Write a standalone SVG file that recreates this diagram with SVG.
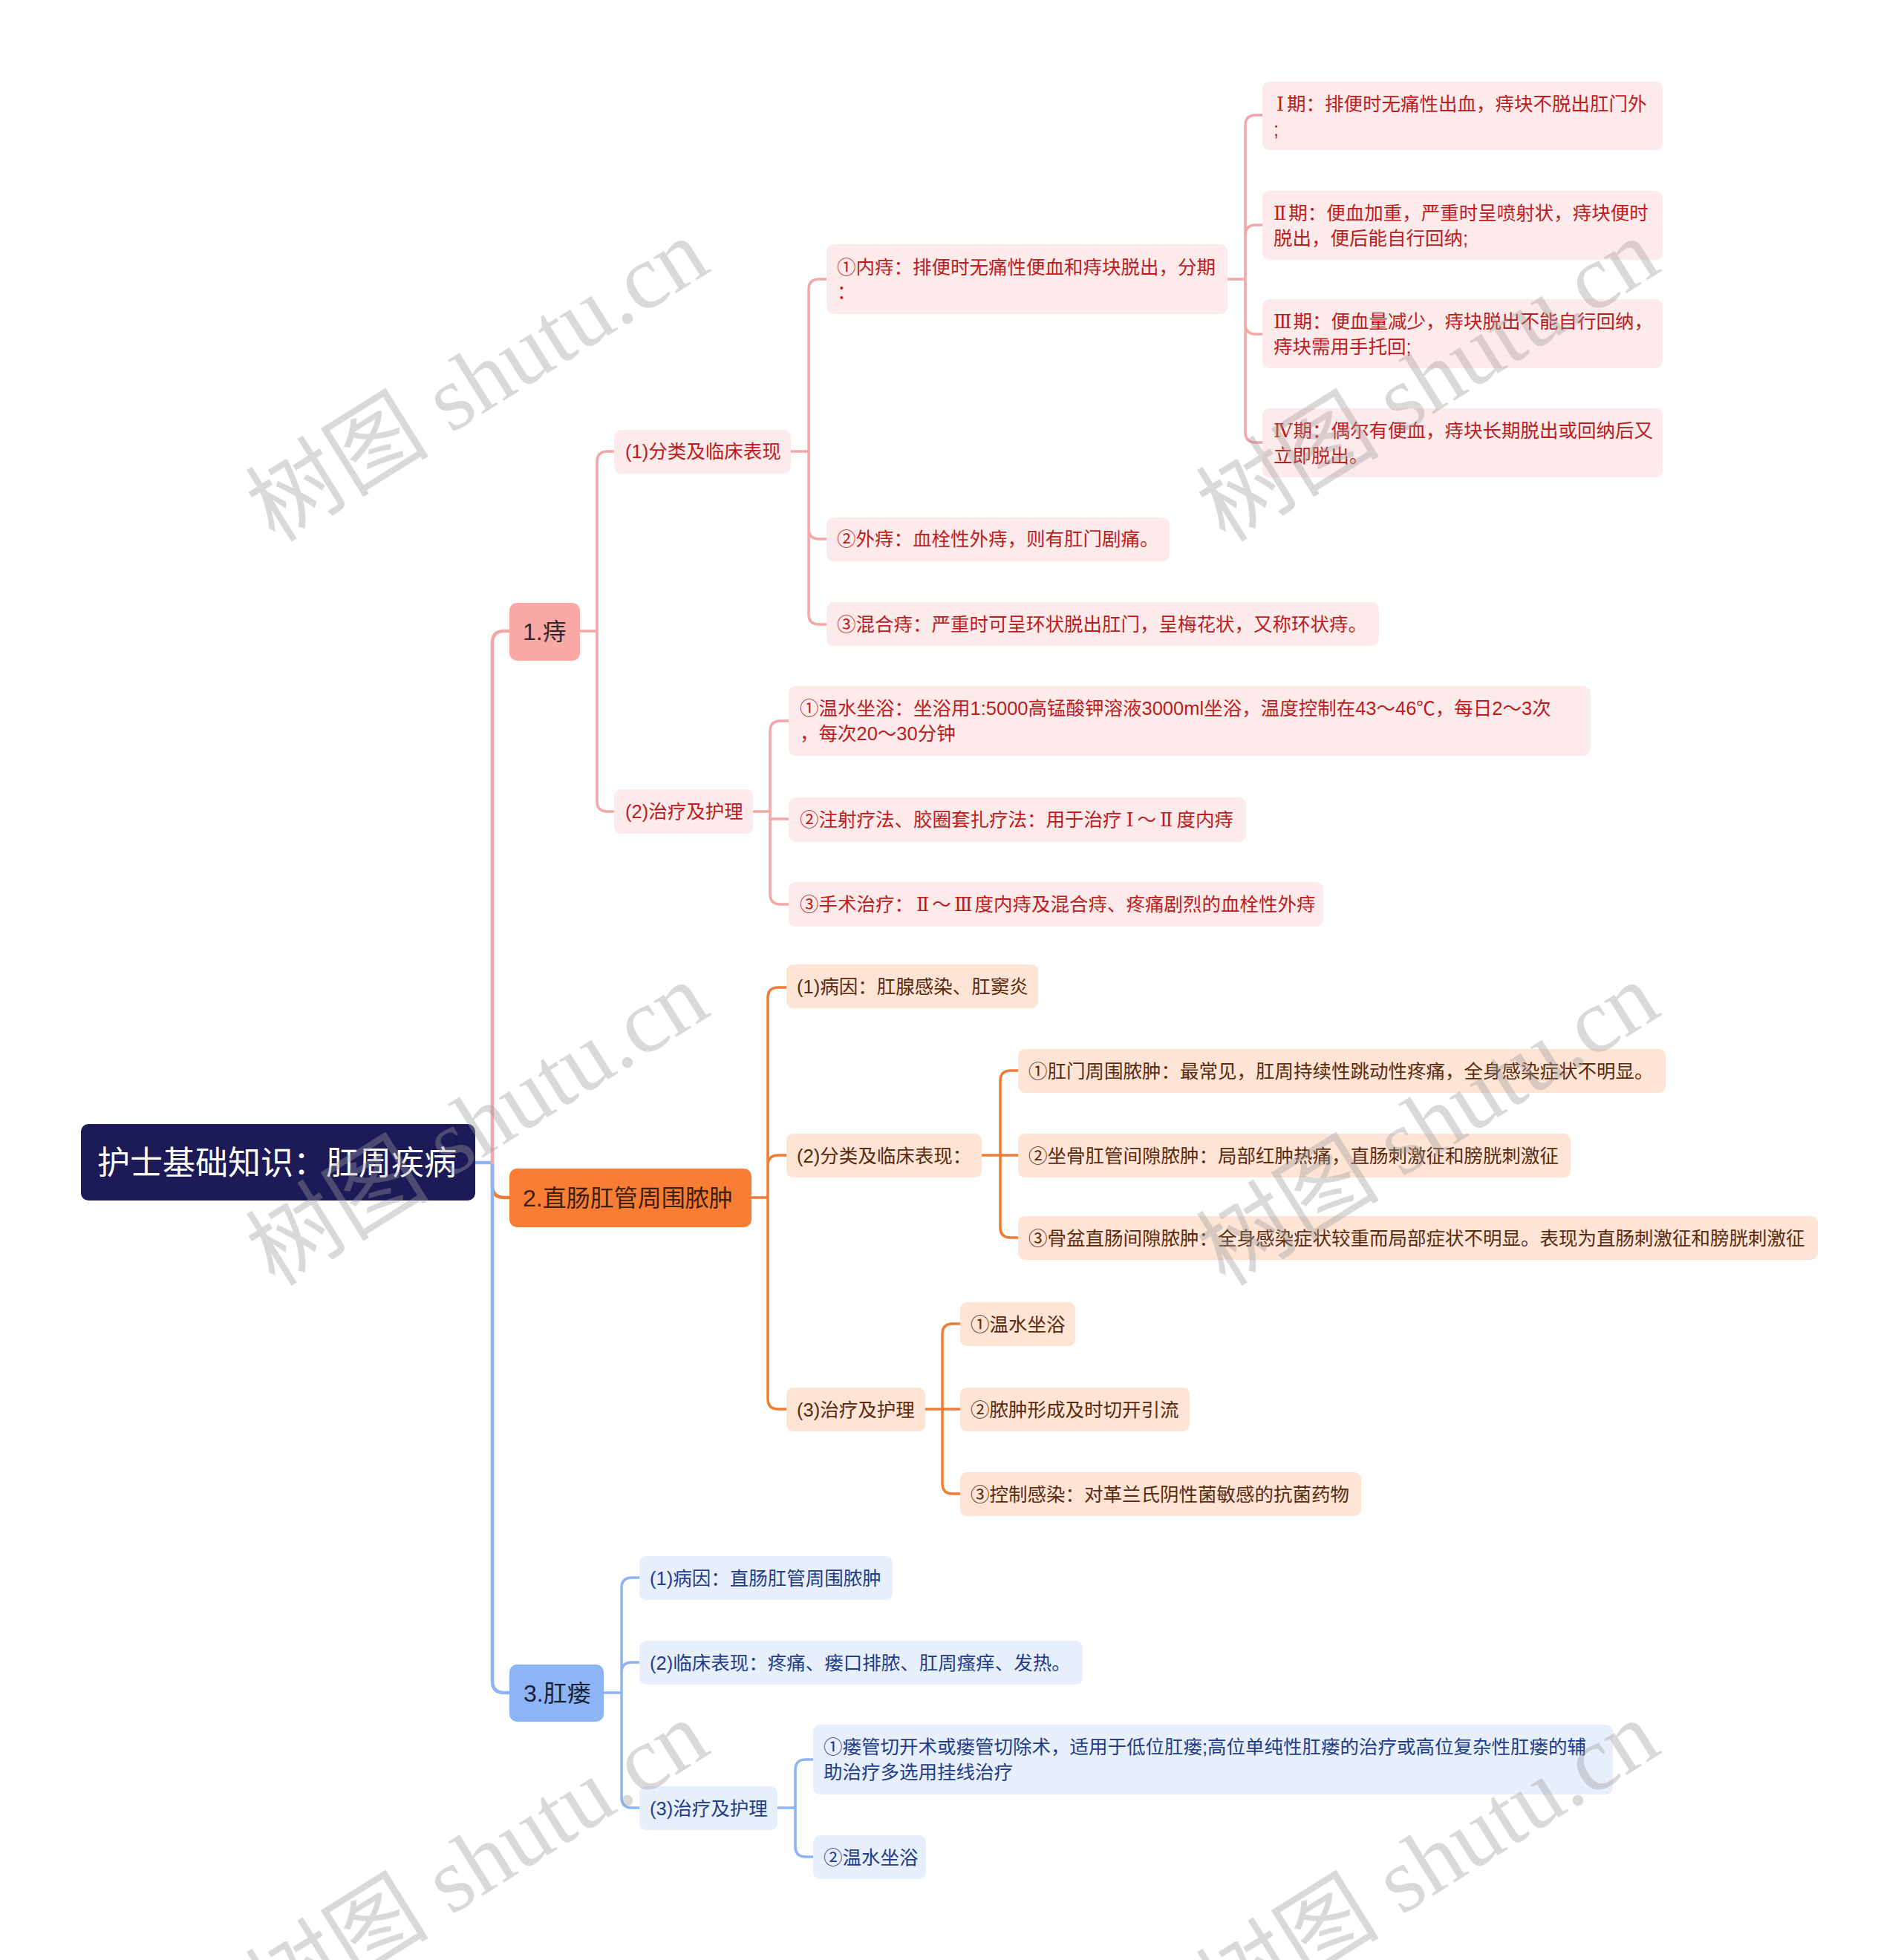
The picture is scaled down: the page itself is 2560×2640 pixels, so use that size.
<svg xmlns="http://www.w3.org/2000/svg" width="2560" height="2640" viewBox="0 0 2560 2640">
<style>
text{font-family:"Liberation Sans","Noto Sans CJK SC",sans-serif}
.t{font-size:25.5px}
.cjk{font-family:"DejaVu Serif","Noto Sans CJK SC",serif}
.red{fill:#BE1B20}.brn{fill:#5A2A0E}.blu{fill:#1F3D88}
.sr{fill:#FDEBEB}.so{fill:#FDE4D5}.sb{fill:#E7EFFC}
.lp{stroke:#F3A7A6}.lo{stroke:#EF7B35}.lb{stroke:#8CB3F2}
.c path{fill:none;stroke-linecap:round;stroke-linejoin:round}
.c1 path{stroke-width:4.5}
.c2 path{stroke-width:3.5}
#watermark text{font-family:"Liberation Serif","Noto Sans CJK SC",serif;font-size:124px;fill:#9a9a9a;fill-opacity:0.38}
</style>
<rect width="2560" height="2640" fill="#FFFFFF"/>
<g id="connectors" class="c">
 <g class="c1">
  <path class="lo" d="M663 1566 V1597 Q663 1613 679 1613 H686"/>
  <path class="lb" d="M640 1566 H663 V2264 Q663 2280 679 2280 H686"/>
  <path class="lp" d="M663 1566 V866 Q663 850 679 850 H686"/>
 </g>
 <g class="c2">
  <path class="lp" d="M781 850 H804 M804 850 V622 Q804 608 818 608 H827 M804 850 V1079 Q804 1093 818 1093 H827"/>
  <path class="lp" d="M1065 608 H1089 M1089 608 V390 Q1089 376 1103 376 H1113 M1089 608 V712 Q1089 726 1103 726 H1113 M1089 608 V827 Q1089 841 1103 841 H1113"/>
  <path class="lp" d="M1653 376 H1677 M1677 376 V169 Q1677 155 1691 155 H1700 M1677 376 V317 Q1677 303 1691 303 H1700 M1677 376 V436 Q1677 450 1691 450 H1700 M1677 376 V582 Q1677 596 1691 596 H1700"/>
  <path class="lp" d="M1014 1093 H1037 M1037 1093 V985 Q1037 971 1051 971 H1062 M1037 1093 V1103 H1062 M1037 1093 V1204 Q1037 1218 1051 1218 H1062"/>
  <path class="lo" d="M1012 1613 H1034 M1034 1613 V1344 Q1034 1330 1048 1330 H1059 M1034 1613 V1570 Q1034 1556 1048 1556 H1059 M1034 1613 V1884 Q1034 1898 1048 1898 H1059"/>
  <path class="lo" d="M1322 1556 H1371 M1347 1556 V1456 Q1347 1442 1361 1442 H1371 M1347 1556 V1653 Q1347 1667 1361 1667 H1371"/>
  <path class="lo" d="M1246 1898 H1293 M1269 1898 V1797 Q1269 1783 1283 1783 H1293 M1269 1898 V1998 Q1269 2012 1283 2012 H1293"/>
  <path class="lb" d="M813 2280 H837 M837 2280 V2139 Q837 2125 851 2125 H861 M837 2280 V2253 Q837 2239 851 2239 H861 M837 2280 V2421 Q837 2435 851 2435 H861"/>
  <path class="lb" d="M1047 2435 H1071 M1071 2435 V2384 Q1071 2370 1085 2370 H1095 M1071 2435 V2487 Q1071 2501 1085 2501 H1095"/>
 </g>
</g>
<g id="root"><rect x="109" y="1514" width="531" height="103" rx="10" fill="#1C1A57"/><text x="131" y="1582" font-size="44" fill="#FFFFFF">护士基础知识：肛周疾病</text></g>
<g id="n1"><rect x="686" y="812" width="95" height="78" rx="10" fill="#FBA9A7"/><text x="704" y="862" font-size="32" fill="#2A2A2A">1.痔</text></g>
<g id="n2"><rect x="686" y="1574" width="326" height="79" rx="10" fill="#F97D35"/><text x="704" y="1625" font-size="32" fill="#3D1F0A">2.直肠肛管周围脓肿</text></g>
<g id="n3"><rect x="686" y="2242" width="127" height="77" rx="10" fill="#8DB5F6"/><text x="705" y="2292" font-size="32" fill="#172035">3.肛瘘</text></g>

<g id="n1-1"><rect class="sr" x="827" y="579" width="238" height="59" rx="9"/><text class="t red" x="842" y="617">(1)分类及临床表现</text></g>
<g id="n1-1-1"><rect class="sr" x="1113" y="329" width="540" height="94" rx="9"/><text class="t red" x="1127" y="369">①内痔：排便时无痛性便血和痔块脱出，分期</text><text class="t red" x="1127" y="402">：</text></g>
<g id="n1-1-1-1"><rect class="sr" x="1700" y="110" width="539" height="92" rx="9"/><text class="t red" x="1719" y="149"><tspan class="cjk">Ⅰ</tspan><tspan dx="4">期：排便时无痛性出血，痔块不脱出肛门外</tspan></text><text class="t red" x="1715" y="183">;</text></g>
<g id="n1-1-1-2"><rect class="sr" x="1700" y="257" width="539" height="93" rx="9"/><text class="t red" x="1715" y="296"><tspan class="cjk">Ⅱ</tspan><tspan dx="3">期：便血加重，严重时呈喷射状，痔块便时</tspan></text><text class="t red" x="1715" y="330">脱出，便后能自行回纳;</text></g>
<g id="n1-1-1-3"><rect class="sr" x="1700" y="403" width="539" height="93" rx="9"/><text class="t red" x="1715" y="442"><tspan class="cjk">Ⅲ</tspan><tspan dx="2">期：便血量减少，痔块脱出不能自行回纳，</tspan></text><text class="t red" x="1715" y="476">痔块需用手托回;</text></g>
<g id="n1-1-1-4"><rect class="sr" x="1700" y="550" width="539" height="93" rx="9"/><text class="t red" x="1715" y="589"><tspan class="cjk">Ⅳ</tspan><tspan dx="1">期：偶尔有便血，痔块长期脱出或回纳后又</tspan></text><text class="t red" x="1715" y="623">立即脱出。</text></g>
<g id="n1-1-2"><rect class="sr" x="1113" y="697" width="462" height="59" rx="9"/><text class="t red" x="1127" y="735">②外痔：血栓性外痔，则有肛门剧痛。</text></g>
<g id="n1-1-3"><rect class="sr" x="1113" y="811" width="744" height="59" rx="9"/><text class="t red" x="1127" y="850">③混合痔：严重时可呈环状脱出肛门，呈梅花状，又称环状痔。</text></g>

<g id="n1-2"><rect class="sr" x="827" y="1063" width="187" height="60" rx="9"/><text class="t red" x="842" y="1102">(2)治疗及护理</text></g>
<g id="n1-2-1"><rect class="sr" x="1062" y="924" width="1080" height="94" rx="9"/><text class="t red" x="1077" y="963">①温水坐浴：坐浴用1:5000高锰酸钾溶液3000ml坐浴，温度控制在43～46℃，每日2～3次</text><text class="t red" x="1077" y="997">，每次20～30分钟</text></g>
<g id="n1-2-2"><rect class="sr" x="1062" y="1074" width="616" height="60" rx="9"/><text class="t red" x="1077" y="1113">②注射疗法、胶圈套扎疗法：用于治疗<tspan class="cjk" dx="6">Ⅰ</tspan><tspan dx="5">～</tspan><tspan class="cjk" dx="5">Ⅱ</tspan><tspan dx="5">度内痔</tspan></text></g>
<g id="n1-2-3"><rect class="sr" x="1062" y="1188" width="720" height="60" rx="9"/><text class="t red" x="1077" y="1227">③手术治疗：<tspan class="cjk" dx="4">Ⅱ</tspan><tspan dx="4">～</tspan><tspan class="cjk" dx="4">Ⅲ</tspan><tspan dx="3">度内痔及混合痔、疼痛剧烈的血栓性外痔</tspan></text></g>

<g id="n2-1"><rect class="so" x="1059" y="1299" width="339" height="59" rx="9"/><text class="t brn" x="1073" y="1338">(1)病因：肛腺感染、肛窦炎</text></g>
<g id="n2-2"><rect class="so" x="1059" y="1527" width="263" height="59" rx="9"/><text class="t brn" x="1073" y="1566">(2)分类及临床表现：</text></g>
<g id="n2-2-1"><rect class="so" x="1371" y="1413" width="872" height="59" rx="9"/><text class="t brn" x="1385" y="1452">①肛门周围脓肿：最常见，肛周持续性跳动性疼痛，全身感染症状不明显。</text></g>
<g id="n2-2-2"><rect class="so" x="1371" y="1527" width="744" height="59" rx="9"/><text class="t brn" x="1385" y="1566">②坐骨肛管间隙脓肿：局部红肿热痛，直肠刺激征和膀胱刺激征</text></g>
<g id="n2-2-3"><rect class="so" x="1371" y="1638" width="1077" height="59" rx="9"/><text class="t brn" x="1385" y="1677">③骨盆直肠间隙脓肿：全身感染症状较重而局部症状不明显。表现为直肠刺激征和膀胱刺激征</text></g>
<g id="n2-3"><rect class="so" x="1059" y="1869" width="187" height="59" rx="9"/><text class="t brn" x="1073" y="1908">(3)治疗及护理</text></g>
<g id="n2-3-1"><rect class="so" x="1293" y="1754" width="155" height="59" rx="9"/><text class="t brn" x="1307" y="1793">①温水坐浴</text></g>
<g id="n2-3-2"><rect class="so" x="1293" y="1869" width="309" height="59" rx="9"/><text class="t brn" x="1307" y="1908">②脓肿形成及时切开引流</text></g>
<g id="n2-3-3"><rect class="so" x="1293" y="1983" width="540" height="59" rx="9"/><text class="t brn" x="1307" y="2022">③控制感染：对革兰氏阴性菌敏感的抗菌药物</text></g>

<g id="n3-1"><rect class="sb" x="861" y="2096" width="341" height="59" rx="9"/><text class="t blu" x="875" y="2135">(1)病因：直肠肛管周围脓肿</text></g>
<g id="n3-2"><rect class="sb" x="861" y="2210" width="597" height="59" rx="9"/><text class="t blu" x="875" y="2249">(2)临床表现：疼痛、瘘口排脓、肛周瘙痒、发热。</text></g>
<g id="n3-3"><rect class="sb" x="861" y="2406" width="186" height="59" rx="9"/><text class="t blu" x="875" y="2445">(3)治疗及护理</text></g>
<g id="n3-3-1"><rect class="sb" x="1095" y="2323" width="1077" height="94" rx="9"/><text class="t blu" x="1109" y="2362">①瘘管切开术或瘘管切除术，适用于低位肛瘘;高位单纯性肛瘘的治疗或高位复杂性肛瘘的辅</text><text class="t blu" x="1109" y="2396">助治疗多选用挂线治疗</text></g>
<g id="n3-3-2"><rect class="sb" x="1095" y="2472" width="152" height="59" rx="9"/><text class="t blu" x="1109" y="2511">②温水坐浴</text></g>

<g id="watermark" text-anchor="middle">
 <text transform="translate(644 514) rotate(-32)" y="40">树图 shutu.cn</text>
 <text transform="translate(1924 514) rotate(-32)" y="40">树图 shutu.cn</text>
 <text transform="translate(644 1516) rotate(-32)" y="40">树图 shutu.cn</text>
 <text transform="translate(1924 1516) rotate(-32)" y="40">树图 shutu.cn</text>
 <text transform="translate(644 2510) rotate(-32)" y="40">树图 shutu.cn</text>
 <text transform="translate(1924 2510) rotate(-32)" y="40">树图 shutu.cn</text>
</g>
</svg>
